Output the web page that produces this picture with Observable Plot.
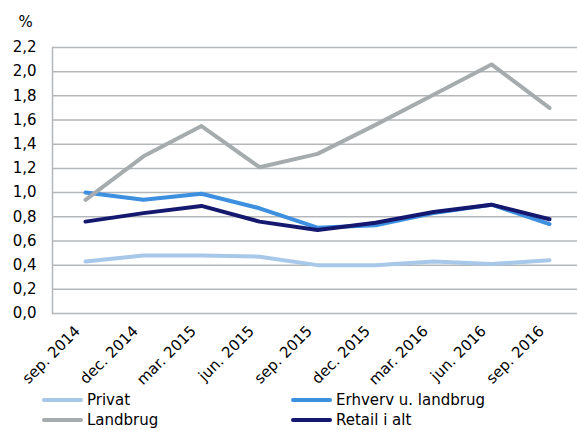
<!DOCTYPE html>
<html>
<head>
<meta charset="utf-8">
<script src="https://cdn.jsdelivr.net/npm/d3@7"></script>
<script src="https://cdn.jsdelivr.net/npm/@observablehq/plot@0.6"></script>
<style>
  html, body { margin: 0; padding: 0; background: #fff; }
  #wrap { position: relative; width: 577px; height: 430px; font-family: Verdana, "DejaVu Sans", sans-serif; }
  .leg { position: absolute; display: flex; align-items: center; font-size: 15px; color: #000; height: 20px; }
  .sw { width: 41px; height: 4px; border-radius: 2px; margin-right: 4px; }
</style>
</head>
<body>
<div id="wrap"></div>
<script>
const quarters = ["sep. 2014","dec. 2014","mar. 2015","jun. 2015","sep. 2015","dec. 2015","mar. 2016","jun. 2016","sep. 2016"];
const privat   = [0.43, 0.48, 0.48, 0.47, 0.40, 0.40, 0.43, 0.41, 0.44];
const erhverv  = [1.00, 0.94, 0.99, 0.87, 0.71, 0.73, 0.83, 0.90, 0.74];
const landbrug = [0.94, 1.30, 1.55, 1.21, 1.32, 1.56, 1.81, 2.06, 1.70];
const retail   = [0.76, 0.83, 0.89, 0.76, 0.69, 0.75, 0.84, 0.90, 0.78];
const seriesNames = ["Privat", "Erhverv u. landbrug", "Landbrug", "Retail i alt"];
const seriesColors = ["#a8c8ea", "#3d8fe0", "#a6abae", "#15186f"];
const yTicks = [0, 0.2, 0.4, 0.6, 0.8, 1.0, 1.2, 1.4, 1.6, 1.8, 2.0, 2.2];

const seriesValues = [privat, erhverv, landbrug, retail];
const data = [];
seriesNames.forEach((name, i) => {
  quarters.forEach((q, j) => data.push({series: name, quarter: q, value: seriesValues[i][j]}));
});

const fmt = d => d.toFixed(1).replace(".", ",");

const chart = Plot.plot({
  width: 577,
  height: 390,
  marginLeft: 52,
  marginRight: 0,
  marginTop: 47,
  marginBottom: 77,
  style: { fontFamily: "Verdana, 'DejaVu Sans', sans-serif", fontSize: "15px", color: "#000", background: "#fff" },
  x: { type: "point", domain: quarters, range: [81, 552], padding: 0, label: null },
  y: { domain: [0, 2.2], label: null },
  color: { domain: seriesNames, range: seriesColors },
  marks: [
    Plot.ruleY(yTicks, { stroke: "#b3b7ba", strokeWidth: 1.5 }),
    Plot.frame({ anchor: "left", stroke: "#b3b7ba", strokeWidth: 1.5 }),
    Plot.axisY(yTicks, { tickSize: 0, tickPadding: 16, tickFormat: fmt, fontSize: 15, label: null }),
    Plot.axisX({ tickSize: 0, tickRotate: -45, tickPadding: 15, dx: -8, fontSize: 15, label: null }),
    Plot.text(["%"], { frameAnchor: "top-left", dx: -27, dy: -31, fontSize: 15, textAnchor: "middle" }),
    Plot.line(data, { x: "quarter", y: "value", z: "series", stroke: "series", strokeWidth: 4, strokeLinejoin: "round" })
  ]
});

const wrap = document.getElementById("wrap");
wrap.appendChild(chart);

const legendPos = [[42, 390], [291, 390], [42, 410], [291, 410]];
seriesNames.forEach((name, i) => {
  const d = document.createElement("div");
  d.className = "leg";
  d.style.left = legendPos[i][0] + "px";
  d.style.top = legendPos[i][1] + "px";
  const sw = document.createElement("span");
  sw.className = "sw";
  sw.style.background = seriesColors[i];
  const t = document.createElement("span");
  t.textContent = name;
  d.appendChild(sw); d.appendChild(t);
  wrap.appendChild(d);
});
</script>
</body>
</html>
